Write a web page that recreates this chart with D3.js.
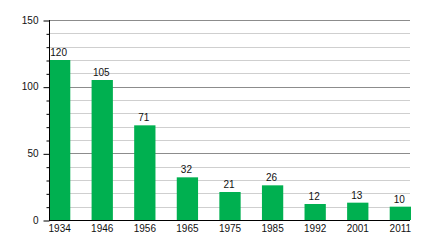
<!DOCTYPE html>
<html>
<head>
<meta charset="utf-8">
<script src="https://cdn.jsdelivr.net/npm/d3@7"></script>
<style>
  body { margin: 0; background: #fff; }
  text { font-family: "Liberation Sans", Arial, sans-serif; font-size: 10px; fill: #111; }
</style>
</head>
<body>
<div class="chart"></div>
<script>
var years = ["1934", "1946", "1956", "1965", "1975", "1985", "1992", "2001", "2011"];
var counts = [120, 105, 71, 32, 21, 26, 12, 13, 10];
var majorTicks = [0, 50, 100, 150];
var minorTicks = [10, 20, 30, 40, 60, 70, 80, 90, 110, 120, 130, 140];

var w = 440, h = 240;
var xLeft = 49, xRight = 411, yTop = 20, yBottom = 220; // plot edges

var svg = d3.select(".chart").append("svg")
    .attr("width", w)
    .attr("height", h);

var x = d3.scaleBand()
    .domain(years)
    .range([xLeft, xRight])
    .paddingInner(0.5)
    .paddingOuter(0);

var y = d3.scaleLinear()
    .domain([0, 150])
    .range([yBottom, yTop]);

// gridlines, light for minor, darker for major
svg.append("g").selectAll("line")
    .data(minorTicks)
    .enter().append("line")
    .attr("x1", xLeft).attr("x2", xRight - 1)
    .attr("y1", d => Math.round(y(d)) + 0.5)
    .attr("y2", d => Math.round(y(d)) + 0.5)
    .style("stroke", "#cfcfcf");

svg.append("g").selectAll("line")
    .data(majorTicks.filter(d => d > 0))
    .enter().append("line")
    .attr("x1", xLeft).attr("x2", xRight - 1)
    .attr("y1", d => Math.round(y(d)) + 0.5)
    .attr("y2", d => Math.round(y(d)) + 0.5)
    .style("stroke", "#8c8c8c");

// bars
svg.append("g").selectAll("rect")
    .data(counts)
    .enter().append("rect")
    .attr("x", (d, i) => x(years[i]))
    .attr("y", d => y(d))
    .attr("width", x.bandwidth())
    .attr("height", d => y(0) - y(d))
    .attr("fill", "#00b050");

// value labels
svg.append("g").selectAll("text")
    .data(counts)
    .enter().append("text")
    .attr("x", (d, i) => x(years[i]) + x.bandwidth() / 2 - 1)
    .attr("y", d => y(d) - 4)
    .attr("text-anchor", "middle")
    .text(d => d);

// y axis: major ticks with labels, minor ticks without
var yAxis = d3.axisLeft(y).tickValues(majorTicks).tickSize(6).tickPadding(5);
var gy = svg.append("g").attr("transform", `translate(${xLeft + 0.5},0)`).call(yAxis);
gy.select(".domain").remove();
gy.selectAll("line").style("stroke", "#000").attr("transform", "translate(0,0.5)");
gy.selectAll("text").style("font-size", "10px").style("font-family", null);

var gyMinor = svg.append("g").attr("transform", `translate(${xLeft + 0.5},0)`)
    .call(d3.axisLeft(y).tickValues(minorTicks).tickSize(3).tickFormat(""));
gyMinor.select(".domain").remove();
gyMinor.selectAll("line").style("stroke", "#000").attr("transform", "translate(0,0.5)");

svg.append("line") // vertical axis line
    .attr("x1", xLeft + 0.5).attr("x2", xLeft + 0.5)
    .attr("y1", yTop).attr("y2", yBottom)
    .style("stroke", "#000");

svg.append("line") // baseline
    .attr("x1", xLeft).attr("x2", xRight - 1)
    .attr("y1", yBottom + 0.5).attr("y2", yBottom + 0.5)
    .style("stroke", "#000");

// x labels
var xAxis = d3.axisBottom(x).tickSize(0).tickPadding(5);
var gx = svg.append("g").attr("transform", `translate(0,${yBottom})`).call(xAxis);
gx.select(".domain").remove();
gx.selectAll("text").style("font-size", "10px").style("font-family", null);
</script>
</body>
</html>
